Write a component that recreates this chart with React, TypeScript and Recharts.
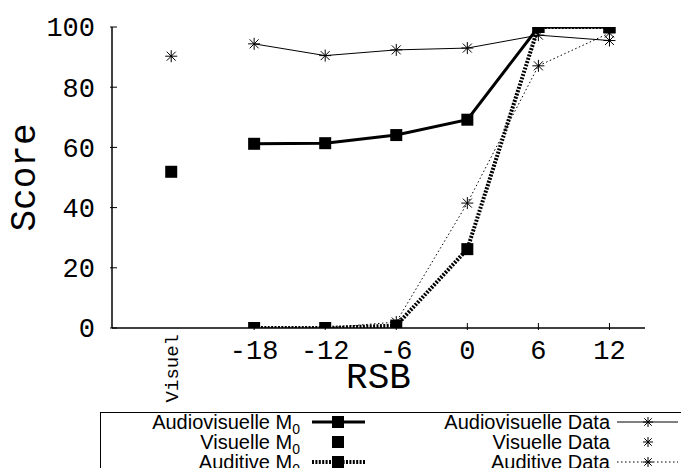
import React from 'react'
import { ComposedChart, Line, XAxis, YAxis, Label } from 'recharts'

// x positions: "Visuel" sits on the numeric RSB axis left of -18
const tickPositions = [-25, -18, -12, -6, 0, 6, 12]
const tickLabels = ['Visuel', '-18', '-12', '-6', '0', '6', '12']
const yTicks = [0, 20, 40, 60, 80, 100]

const rsb = [-18, -12, -6, 0, 6, 12]
const audiovisuelleM0 = [61.2, 61.4, 64.1, 69.2, 100, 100]
const auditiveM0 = [0, 0, 0.8, 26.2, 100, 100]
const audiovisuelleData = [94.4, 90.5, 92.4, 93, 97.3, 95.5]
const auditiveData = [0, 0, 2, 41.5, 87.1, 98]
const visuelX = -25
const visuelleM0 = 51.9
const visuelleData = 90.3

const data = [
  { x: visuelX, visM0: visuelleM0, visData: visuelleData },
  ...rsb.map((x, i) => ({
    x,
    avM0: audiovisuelleM0[i],
    audM0: auditiveM0[i],
    avData: audiovisuelleData[i],
    audData: auditiveData[i],
  })),
]

type Series = {
  key: string
  name: string
  sub: string
  marker: 'square' | 'star'
  width: number
  dash?: string
  line: boolean
  col: number
  row: number
}

const series: Series[] = [
  { key: 'avData', name: 'Audiovisuelle ', sub: 'Data', marker: 'star', width: 1, line: true, col: 1, row: 0 },
  { key: 'visData', name: 'Visuelle ', sub: 'Data', marker: 'star', width: 1, line: false, col: 1, row: 1 },
  { key: 'audData', name: 'Auditive ', sub: 'Data', marker: 'star', width: 1, dash: '1.5 2.5', line: true, col: 1, row: 2 },
  { key: 'avM0', name: 'Audiovisuelle M', sub: '0', marker: 'square', width: 3, line: true, col: 0, row: 0 },
  { key: 'visM0', name: 'Visuelle M', sub: '0', marker: 'square', width: 3, line: false, col: 0, row: 1 },
  { key: 'audM0', name: 'Auditive M', sub: '0', marker: 'square', width: 4, dash: '2 1.4', line: true, col: 0, row: 2 },
]

const MONO = '"Liberation Mono", "Courier New", monospace'
const SANS = '"Liberation Sans", Arial, sans-serif'

function Marker({ type, cx, cy, s = 6 }: { type: string; cx: number; cy: number; s?: number }) {
  if (type === 'square') {
    return <rect x={cx - s} y={cy - s} width={s * 2} height={s * 2} fill="#000" />
  }
  const d = s * 0.75
  return (
    <g stroke="#000" strokeWidth={1}>
      <line x1={cx - s} y1={cy} x2={cx + s} y2={cy} />
      <line x1={cx} y1={cy - s} x2={cx} y2={cy + s} />
      <line x1={cx - d} y1={cy - d} x2={cx + d} y2={cy + d} />
      <line x1={cx - d} y1={cy + d} x2={cx + d} y2={cy - d} />
    </g>
  )
}

const makeDot = (type: string, key: string) => (props: any) => {
  const { cx, cy, index, value } = props
  if (cx == null || cy == null || value == null) return <g key={`${key}-${index}`} />
  return (
    <g key={`${key}-${index}`}>
      <Marker type={type} cx={cx} cy={cy} />
    </g>
  )
}

function BottomTick(props: any) {
  const { x, y, payload } = props
  const label = tickLabels[tickPositions.indexOf(payload.value)]
  if (payload.value === visuelX) {
    return (
      <text
        x={x + 7}
        y={y + 4}
        transform={`rotate(-90 ${x + 7} ${y + 4})`}
        textAnchor="end"
        fontFamily={MONO}
        fontSize={19}
        fill="#000"
      >
        {label}
      </text>
    )
  }
  return (
    <g>
      <line x1={x} y1={y} x2={x} y2={y - 7} stroke="#000" />
      <text x={x} y={y + 29} textAnchor="middle" fontFamily={MONO} fontSize={27} fill="#000">
        {label}
      </text>
    </g>
  )
}

function TopTick(props: any) {
  const { x, y, payload } = props
  if (payload.value === visuelX) return <g />
  return <line x1={x} y1={y} x2={x} y2={y + 7} stroke="#000" />
}

function LeftTick(props: any) {
  const { x, y, payload } = props
  return (
    <g>
      <line x1={x} y1={y} x2={x + 7} y2={y} stroke="#000" />
      <text x={x - 15} y={y} dy="0.35em" textAnchor="end" fontFamily={MONO} fontSize={27} fill="#000">
        {payload.value}
      </text>
    </g>
  )
}

function RightTick(props: any) {
  const { x, y } = props
  return <line x1={x} y1={y} x2={x - 7} y2={y} stroke="#000" />
}

function XLabel(props: any) {
  const { x, y, width } = props.viewBox
  return (
    <text x={x + width / 2} y={y + 60} textAnchor="middle" fontFamily={MONO} fontSize={36} fill="#000">
      RSB
    </text>
  )
}

function YLabel(props: any) {
  const { y, height } = props.viewBox
  const cx = 35
  const cy = y + height / 2
  return (
    <text x={cx} y={cy} transform={`rotate(-90 ${cx} ${cy})`} textAnchor="middle" fontFamily={MONO} fontSize={36} fill="#000">
      Score
    </text>
  )
}

const legendCols = [
  { textEnd: 300, lineStart: 312, lineEnd: 365, mark: 338 },
  { textEnd: 610, lineStart: 617, lineEnd: 678, mark: 648 },
]
const legendRows = [422, 442, 462]

function LegendBox() {
  return (
    <svg width={681} height={468} style={{ position: 'absolute', left: 0, top: 0, pointerEvents: 'none' }}>
      <line x1={100} y1={412.5} x2={681} y2={412.5} stroke="#000" />
      <line x1={100.5} y1={412} x2={100.5} y2={468} stroke="#000" />
      {series.map((s) => {
        const c = legendCols[s.col]
        const yy = legendRows[s.row]
        return (
          <g key={s.key}>
            <text x={c.textEnd} y={yy + 7} textAnchor="end" fontFamily={SANS} fontSize={20} fill="#000">
              {s.marker === 'square' ? (
                <>
                  {s.name}
                  <tspan fontSize={14} dy={5}>
                    {s.sub}
                  </tspan>
                </>
              ) : (
                s.name + s.sub
              )}
            </text>
            {s.line && (
              <line
                x1={c.lineStart}
                y1={yy}
                x2={c.lineEnd}
                y2={yy}
                stroke="#000"
                strokeWidth={s.width}
                strokeDasharray={s.dash}
              />
            )}
            <Marker type={s.marker} cx={c.mark} cy={yy} s={s.marker === 'square' ? 6 : 5} />
          </g>
        )
      })}
    </svg>
  )
}

export default function App() {
  return (
    <div style={{ position: 'relative', width: 681, height: 468, background: '#fff' }}>
      <style>{'body{margin:0}'}</style>
      <ComposedChart width={681} height={468} data={data} margin={{ top: 27, right: 36, bottom: 70, left: 0 }}>
        <XAxis
          dataKey="x"
          type="number"
          domain={[-30, 15]}
          ticks={tickPositions}
          interval={0}
          tickSize={0}
          tickLine={false}
          tick={BottomTick}
          axisLine={{ stroke: '#000', strokeWidth: 1.5 }}
          height={70}
          allowDataOverflow
        >
          <Label content={XLabel} />
        </XAxis>
        <XAxis
          xAxisId="top"
          orientation="top"
          dataKey="x"
          type="number"
          domain={[-30, 15]}
          ticks={tickPositions}
          interval={0}
          tickSize={0}
          tickLine={false}
          tick={TopTick}
          axisLine={{ stroke: '#000', strokeWidth: 1.5 }}
          height={0}
          allowDataOverflow
        />
        <YAxis
          type="number"
          domain={[0, 100]}
          ticks={yTicks}
          interval={0}
          tickSize={0}
          tickLine={false}
          tick={LeftTick}
          axisLine={{ stroke: '#000', strokeWidth: 1.5 }}
          width={112}
          allowDataOverflow
        >
          <Label content={YLabel} />
        </YAxis>
        <YAxis
          yAxisId="right"
          orientation="right"
          type="number"
          domain={[0, 100]}
          ticks={yTicks}
          interval={0}
          tickSize={0}
          tickLine={false}
          tick={RightTick}
          axisLine={{ stroke: '#000', strokeWidth: 1.5 }}
          width={0}
          allowDataOverflow
        />
        {series.map((s) => (
          <Line
            key={s.key}
            dataKey={s.key}
            type="linear"
            stroke={s.line ? '#000' : 'none'}
            strokeWidth={s.width}
            strokeDasharray={s.dash}
            dot={makeDot(s.marker, s.key)}
            activeDot={false}
            connectNulls={false}
            isAnimationActive={false}
          />
        ))}
      </ComposedChart>
      <LegendBox />
    </div>
  )
}
